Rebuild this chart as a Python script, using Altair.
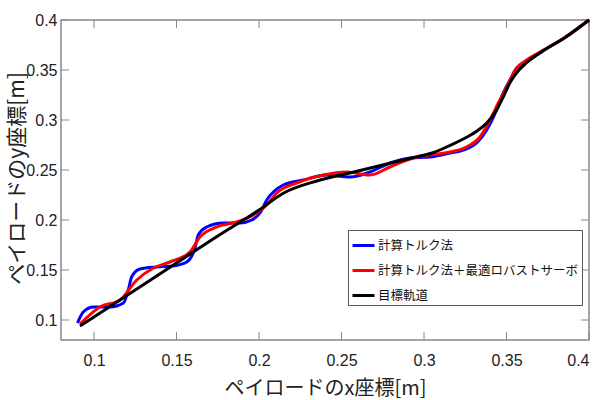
import altair as alt
import pandas as pd

# Target trajectory (black)
target_x = [0.0915, 0.100, 0.125, 0.150, 0.175, 0.200, 0.215, 0.235, 0.255, 0.275, 0.295,
            0.305, 0.315, 0.325, 0.333, 0.338, 0.344, 0.348, 0.352, 0.356, 0.362, 0.372, 0.385, 0.400]
target_y = [0.094, 0.103, 0.130, 0.157, 0.184, 0.210, 0.227, 0.239, 0.247, 0.255, 0.263,
            0.267, 0.274, 0.282, 0.290, 0.297, 0.310, 0.323, 0.337, 0.347, 0.357, 0.369, 0.382, 0.400]

# Computed torque method (blue)
ctm_x = [0.0900, 0.0935, 0.0996, 0.1097, 0.1178, 0.1208, 0.1228, 0.1279, 0.1380, 0.1480,
         0.1562, 0.1612, 0.1632, 0.1683, 0.1783, 0.1885, 0.1956, 0.2006, 0.2047, 0.2147,
         0.2268, 0.2410, 0.2551, 0.2673, 0.2794, 0.2915, 0.3036, 0.3157, 0.3238, 0.3319,
         0.3380, 0.3440, 0.3480, 0.3521, 0.3562, 0.3590, 0.3620, 0.3720, 0.3850, 0.4000]
ctm_y = [0.097, 0.108, 0.113, 0.113, 0.117, 0.130, 0.143, 0.151, 0.153, 0.154,
         0.158, 0.172, 0.185, 0.193, 0.197, 0.197, 0.200, 0.207, 0.220, 0.235,
         0.240, 0.245, 0.243, 0.248, 0.257, 0.262, 0.263, 0.267, 0.270, 0.277,
         0.290, 0.310, 0.327, 0.340, 0.352, 0.355, 0.358, 0.369, 0.382, 0.400]

# Computed torque + optimal robust servo (red)
ors_x = [0.0915, 0.1036, 0.1158, 0.1259, 0.1360, 0.1460, 0.1581, 0.1642, 0.1744, 0.1865,
         0.1966, 0.2047, 0.2107, 0.2228, 0.2390, 0.2531, 0.2673, 0.2794, 0.2935, 0.3036,
         0.3157, 0.3258, 0.3339, 0.3400, 0.3450, 0.3501, 0.3562, 0.3622, 0.3703, 0.3850, 0.4000]
ors_y = [0.096, 0.113, 0.120, 0.140, 0.152, 0.158, 0.168, 0.183, 0.193, 0.198,
         0.205, 0.215, 0.227, 0.237, 0.245, 0.248, 0.245, 0.253, 0.262, 0.265,
         0.268, 0.273, 0.283, 0.300, 0.317, 0.333, 0.352, 0.360, 0.368, 0.382, 0.400]

names = ["計算トルク法", "計算トルク法＋最適ロバストサーボ", "目標軌道"]
colors = ["#0000ff", "#ff0000", "#000000"]

x_ticks = [0.1, 0.15, 0.2, 0.25, 0.3, 0.35, 0.4]
y_ticks = [0.1, 0.15, 0.2, 0.25, 0.3, 0.35, 0.4]

num_font = "Liberation Sans Narrow, Liberation Sans"
jp_font = "Noto Sans CJK JP"

W, H = 528, 320

df_blue = pd.DataFrame({"x": ctm_x, "y": ctm_y, "s": names[0]})
df_red = pd.DataFrame({"x": ors_x, "y": ors_y, "s": names[1]})
df_black = pd.DataFrame({"x": target_x, "y": target_y, "s": names[2]})

xscale = alt.Scale(domain=[0.08, 0.4], nice=False, zero=False)
yscale = alt.Scale(domain=[0.08, 0.4], nice=False, zero=False)

xaxis = alt.Axis(values=x_ticks, format="~g", ticks=False, domain=False, grid=False,
                 labelFont=num_font, labelFontSize=16, labelColor="#222",
                 labelPadding=12, title="ペイロードのx座標[m]", titleFont=jp_font,
                 titleFontSize=20, titleFontWeight="normal", titleColor="#222",
                 titleY=38, titleBaseline="top")
yaxis = alt.Axis(values=y_ticks, format="~g", ticks=False, domain=False, grid=False,
                 labelFont=num_font, labelFontSize=16, labelColor="#222",
                 labelPadding=4, title="ペイロードのy座標[m]", titleFont=jp_font,
                 titleFontSize=21, titleFontWeight="normal", titleColor="#222",
                 titleX=-44, titleY=H / 2 - 2, titleAngle=270, titleBaseline="middle",
                 titleAlign="center")

color = alt.Color("s:N", scale=alt.Scale(domain=names, range=colors),
                  legend=alt.Legend(title=None, orient="none", legendX=287, legendY=210,
                                    direction="vertical", symbolType="stroke",
                                    symbolSize=484, symbolStrokeWidth=3,
                                    labelFont=jp_font, labelFontSize=12.5, labelColor="#111",
                                    labelOffset=2, labelLimit=400, rowPadding=6,
                                    padding=3, strokeColor="#555", fillColor="white"))

def line(df):
    return alt.Chart(df).mark_line(strokeWidth=3, interpolate="monotone").encode(
        x=alt.X("x:Q", scale=xscale, axis=xaxis),
        y=alt.Y("y:Q", scale=yscale, axis=yaxis),
        color=color,
    )

tick_color = "#888888"
xt = pd.DataFrame({"t": x_ticks})
yt = pd.DataFrame({"t": y_ticks})
bottom_ticks = alt.Chart(xt).mark_rule(color=tick_color, strokeWidth=1).encode(
    x=alt.X("t:Q", scale=xscale), y=alt.value(H), y2=alt.value(H - 8))
top_ticks = alt.Chart(xt).mark_rule(color=tick_color, strokeWidth=1).encode(
    x=alt.X("t:Q", scale=xscale), y=alt.value(0), y2=alt.value(8))
left_ticks = alt.Chart(yt).mark_rule(color=tick_color, strokeWidth=1).encode(
    y=alt.Y("t:Q", scale=yscale), x=alt.value(0), x2=alt.value(8))
right_ticks = alt.Chart(yt).mark_rule(color=tick_color, strokeWidth=1).encode(
    y=alt.Y("t:Q", scale=yscale), x=alt.value(W), x2=alt.value(W - 8))

chart = alt.layer(
    bottom_ticks, top_ticks, left_ticks, right_ticks,
    line(df_blue), line(df_red), line(df_black),
).properties(
    width=W, height=H,
    autosize=alt.AutoSizeParams(type="none"),
    padding={"left": 61, "top": 20, "right": 11, "bottom": 60},
    background="white",
).configure_view(stroke="#888888", strokeWidth=1.5)

chart.save("out.html", embed_options={"renderer": "svg", "actions": False})
